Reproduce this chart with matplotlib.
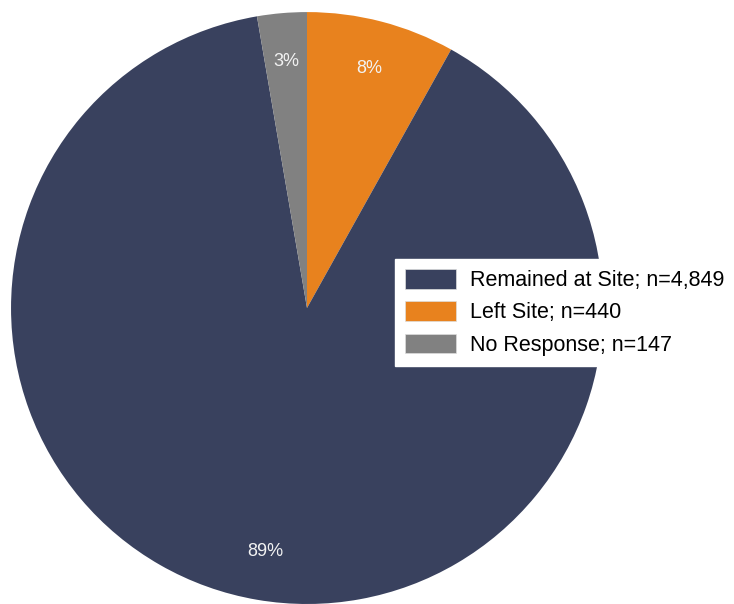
import matplotlib
matplotlib.use("Agg")
import matplotlib.pyplot as plt
from matplotlib.patches import Patch

plt.rcParams['font.family'] = ['Liberation Sans', 'DejaVu Sans']

# responses, in clockwise order from 12 o'clock
slices = ['Left Site', 'Remained at Site', 'No Response']
counts = [440, 4849, 147]
colors = ['#E8821E', '#39415E', '#818181']

# legend order
legend_names = ['Remained at Site', 'Left Site', 'No Response']

fig = plt.figure(figsize=(7.34, 6.04), dpi=100)
ax = fig.add_axes([0.015, 0.0, 0.8065, 0.980])

wedges, texts, autotexts = ax.pie(
    counts, colors=colors, startangle=90, counterclock=False,
    autopct='%1.0f%%', pctdistance=0.835, radius=1.0,
    textprops=dict(color='#F2F2F2', fontsize=13))
ax.set_xlim(-1, 1)
ax.set_ylim(-1, 1)
ax.set_aspect('equal')
ax.axis('off')

handles = []
for name in legend_names:
    i = slices.index(name)
    handles.append(Patch(facecolor=colors[i], edgecolor='#DDDDDD', linewidth=0.5,
                         label='%s; n=%s' % (name, format(counts[i], ','))))

leg = fig.legend(handles=handles, loc='upper left', bbox_to_anchor=(0.538, 0.571),
                 borderaxespad=0, fontsize=15.5, frameon=True, fancybox=False,
                 framealpha=1, edgecolor='white', handlelength=2.37,
                 handleheight=1.02, labelspacing=0.47, borderpad=0.46,
                 handletextpad=0.65)

fig.savefig('out.png', dpi=100)
